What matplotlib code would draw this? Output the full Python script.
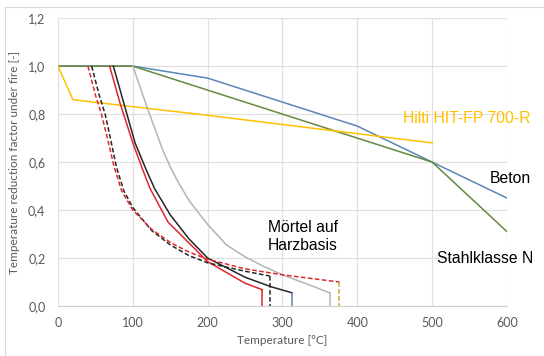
import matplotlib.pyplot as plt
from matplotlib.lines import Line2D

# Fonts: Arial-like for annotations, Calibri-like for axes
plt.rc('font', family='Lato')

# --- Data ---
# Beton
beton_t = [0, 100, 200, 400, 500, 600]
beton_k = [1.0, 1.0, 0.95, 0.75, 0.60, 0.45]

# Stahlklasse N
stahl_t = [0, 100, 500, 600]
stahl_k = [1.0, 1.0, 0.60, 0.31]

# Hilti HIT-FP 700-R
hilti_t = [0, 20, 200, 500]
hilti_k = [1.0, 0.86, 0.795, 0.68]

# Mörtel auf Harzbasis (several products)
red_t = [69, 83, 100, 113, 123, 147, 200, 250, 273]
red_k = [1.0, 0.845, 0.68, 0.57, 0.49, 0.35, 0.185, 0.095, 0.068]

black_t = [74, 88, 103, 118, 129, 150, 175, 200, 250, 285, 313]
black_k = [1.0, 0.845, 0.68, 0.567, 0.49, 0.38, 0.28, 0.20, 0.12, 0.08, 0.055]

gray_t = [100, 110, 120, 130, 140, 150, 160, 175, 200, 225, 250, 275, 300, 330, 363]
gray_k = [1.0, 0.91, 0.82, 0.735, 0.65, 0.58, 0.52, 0.44, 0.34, 0.255, 0.205, 0.165, 0.13, 0.095, 0.055]

red_dash_t = [40, 50, 58, 66, 75, 85, 100, 125, 150, 175, 200, 250, 300, 376]
red_dash_k = [1.0, 0.88, 0.80, 0.70, 0.58, 0.48, 0.40, 0.32, 0.265, 0.225, 0.195, 0.155, 0.13, 0.10]

black_dash_t = [45, 55, 63, 70, 78, 88, 100, 125, 150, 175, 200, 250, 283]
black_dash_k = [1.0, 0.88, 0.80, 0.70, 0.58, 0.48, 0.41, 0.315, 0.255, 0.21, 0.18, 0.145, 0.125]

x_ticks = [0, 100, 200, 300, 400, 500, 600]
y_ticks = [0.0, 0.2, 0.4, 0.6, 0.8, 1.0, 1.2]
y_tick_labels = ['0,0', '0,2', '0,4', '0,6', '0,8', '1,0', '1,2']

# --- Figure ---
fig = plt.figure(figsize=(5.44, 3.56), dpi=100)
ax = fig.add_axes([0.1066, 0.1404, 0.8254, 0.8086])

lw = 1.1
dash = (0, (3, 1.6))

ax.plot(beton_t, beton_k, color='#5A86B8', lw=lw)
ax.plot(stahl_t, stahl_k, color='#66893F', lw=lw)
ax.plot(hilti_t, hilti_k, color='#FFC000', lw=lw)

ax.plot(gray_t, gray_k, color='#B4B4B4', lw=lw)
ax.plot(black_t, black_k, color='#262626', lw=lw)
ax.plot(red_t, red_k, color='#E0262C', lw=lw)
ax.plot(black_dash_t, black_dash_k, color='#262626', lw=lw, linestyle=dash)
ax.plot(red_dash_t, red_dash_k, color='#E0262C', lw=lw, linestyle=dash)

# vertical drops at the end of each mortar curve
ax.plot([red_t[-1], red_t[-1]], [red_k[-1], 0], color='#E0262C', lw=lw)
ax.plot([black_dash_t[-1], black_dash_t[-1]], [black_dash_k[-1], 0], color='#262626', lw=lw, linestyle=dash)
ax.plot([black_t[-1], black_t[-1]], [black_k[-1], 0], color='#5A86B8', lw=lw)
ax.plot([gray_t[-1], gray_t[-1]], [gray_k[-1], 0], color='#B4B4B4', lw=lw)
ax.plot([red_dash_t[-1], red_dash_t[-1]], [red_dash_k[-1], 0], color='#C9A43A', lw=lw, linestyle=dash)

# axes styling (Excel look)
ax.set_xlim(0, 600)
ax.set_ylim(0, 1.2)
ax.set_xticks(x_ticks)
ax.set_yticks(y_ticks)
ax.set_yticklabels(y_tick_labels)
ax.grid(True, color='#E0E0E0', lw=0.9)
ax.set_axisbelow(True)
for side in ['top', 'right', 'left']:
    ax.spines[side].set_visible(False)
ax.spines['bottom'].set_color('#D0D0D0')
ax.tick_params(length=0, colors='#595959', labelsize=9)
ax.tick_params(axis='y', pad=9)
ax.tick_params(axis='x', pad=8)

ax.set_xlabel('Temperature [°C]', color='#595959', fontsize=8.5, labelpad=4)
ax.set_ylabel('Temperature reduction factor under fire [-]', color='#595959', fontsize=8.5, labelpad=6)

# annotations
ann = dict(family='Liberation Sans', fontsize=11.3)
ax.text(461, 0.78, 'Hilti HIT-FP 700-R', color='#FFC000', va='center', clip_on=False, **ann)
ax.text(577, 0.53, 'Beton', color='black', va='center', clip_on=False, **ann)
ax.text(507, 0.20, 'Stahlklasse N', color='black', va='center', clip_on=False, **ann)
ax.text(280, 0.29, 'Mörtel auf\nHarzbasis', color='black', va='center', linespacing=1.3, **ann)

# light frame lines around the chart area
fig.add_artist(Line2D([5 / 544, 1], [1 - 7 / 356, 1 - 7 / 356], color='#D9D9D9', lw=0.8))
fig.add_artist(Line2D([5 / 544, 5 / 544], [0, 1 - 7 / 356], color='#D9D9D9', lw=0.8))

fig.savefig('out.png', dpi=100)
